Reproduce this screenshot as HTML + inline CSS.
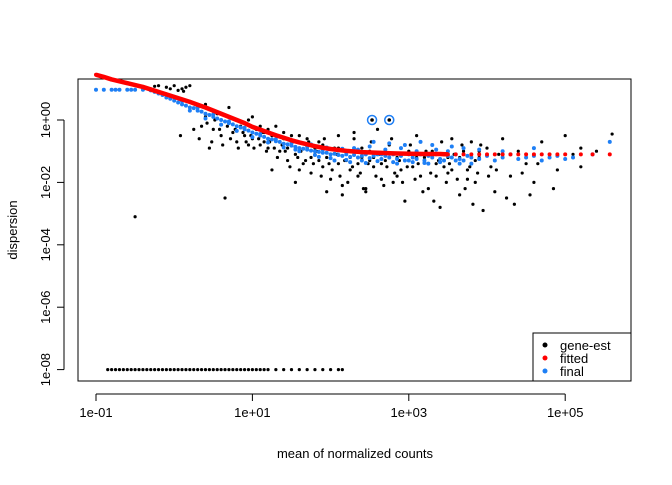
<!DOCTYPE html>
<html><head><meta charset="utf-8"><style>
body{margin:0;background:#fff}
svg text{font-family:"Liberation Sans",sans-serif;font-size:13px}
</style></head><body>
<svg width="672" height="480" id="plot">
<rect x="78" y="79" width="553" height="302" fill="none" stroke="#000"/>
<g id="axes"></g>
<g id="pts"></g>
<text x="355" y="458" text-anchor="middle">mean of normalized counts</text>
<text transform="translate(17,230) rotate(-90)" text-anchor="middle">dispersion</text>
<g>
<rect x="533" y="333" width="98" height="48" fill="#fff" stroke="#000"/>
<circle cx="545" cy="345" r="2.5" fill="#000"/><text x="560" y="350">gene-est</text>
<circle cx="545" cy="358" r="2.5" fill="#f00"/><text x="560" y="363">fitted</text>
<circle cx="545" cy="371" r="2.5" fill="#1e7ff5"/><text x="560" y="376">final</text>
</g>
</svg>
<script>
const xTicks=[-1,1,3,5];
const xTickLabels=["1e-01","1e+01","1e+03","1e+05"];
const yTicks=[0,-2,-4,-6,-8];
const yTickLabels=["1e+00","1e-02","1e-04","1e-06","1e-08"];
const genePoints=[[-0.2,1.1],[-0.1,1.05],[0,1.1],[0.1,1.0],[0.2,1.1],[-0.3,1.0],[0.15,1.05],[0.05,0.95],[-0.25,1.08],[-0.05,1.0],[0.12,0.92],
[0.3,0.3],[0.35,-0.2],[0.4,0.1],[0.5,-0.3],[0.55,0.2],[0.6,-0.5],[0.7,-0.1],[0.75,-0.4],[0.8,-0.7],[0.85,-0.2],[0.9,-0.5],[0.95,0.0],[1.0,-0.6],[1.05,-0.3],[1.1,-0.8],[1.15,-0.4],[1.2,-0.9],[1.25,-0.5],[1.3,-0.2],[1.35,-1.0],[1.4,-0.6],[1.45,-1.3],[1.5,-0.8],[1.55,-1.1],[1.6,-0.5],[1.65,-1.4],[1.7,-0.9],[1.75,-1.7],[1.8,-1.1],[1.85,-0.7],[1.9,-1.5],[1.95,-1.2],[2.0,-1.9],[2.05,-0.9],[2.1,-1.4],[2.15,-2.1],[2.2,-1.0],[2.25,-1.6],[2.3,-0.6],[2.35,-1.8],[2.4,-1.2],[2.45,-2.3],[2.5,-1.0],[2.55,-1.5],[2.6,-0.3],[2.65,-1.9],[2.7,-1.3],[2.75,-0.8],[2.8,-2.0],[2.85,-1.2],[2.9,-1.6],[2.95,-2.6],[3.0,-1.0],[3.05,-1.5],[3.1,-0.5],[3.15,-1.8],[3.2,-1.2],[3.25,-2.2],[3.3,-0.8],[3.35,-1.4],[3.4,-2.8],[3.45,-1.1],[3.5,-1.7],[3.55,-0.6],[3.6,-1.3],[3.65,-2.4],[3.7,-1.0],[3.75,-1.6],[3.8,-0.7],[3.85,-2.0],[3.9,-1.2],[3.95,-2.9],[4.0,-0.9],[4.05,-1.5],[4.1,-2.3],[4.15,-1.1],[4.2,-0.6],[4.3,-1.8],[4.35,-2.7],[4.4,-1.0],[4.5,-1.4],[4.6,-2.0],[4.7,-0.7],[4.8,-1.2],[4.9,-1.6],[5.0,-0.5],[5.1,-1.1],[5.2,-0.9],[5.4,-1.0],[5.6,-0.45],[-0.5,-3.1],
[0.4,0.5],[0.6,0.2],[0.7,0.4],[0.9,-0.1],[1.0,0.1],[1.1,-0.2],[1.2,-0.3],[1.3,-0.6],[1.4,-0.4],[1.5,-0.5],[1.6,-0.9],[1.7,-0.6],[1.8,-0.9],[1.9,-0.8],[2.0,-1.1],[2.1,-0.9],[2.2,-1.3],[2.3,-1.1],[2.4,-0.9],[2.5,-1.3],[2.7,-1.0],[2.9,-1.1],[3.1,-1.2],[3.3,-1.0],[3.5,-1.2],[3.7,-1.3],[3.9,-1.0],[4.1,-1.3],[4.3,-1.1],[4.5,-1.1],[0.45,-0.9],[0.65,-2.5],[1.25,-1.6],[1.55,-2.0],[2.15,-2.4],[2.45,-2.2],[0.08,-0.5],
[0.32,-0.6],[0.42,-0.1],[0.48,-0.7],[0.52,0.0],[0.58,-0.3],[0.62,-0.8],[0.68,-0.2],[0.72,-0.6],[0.78,-0.3],[0.82,-0.9],[0.88,-0.4],[0.92,-0.7],[0.98,-0.5],[1.02,-0.9],[1.08,-0.6],[1.12,-0.4],[1.18,-1.0],[1.22,-0.7],[1.28,-0.9],[1.32,-1.2],[1.38,-0.8],[1.42,-1.0],[1.48,-1.5],[1.52,-0.7],[1.58,-1.2],[1.62,-1.0],[1.68,-1.3],[1.72,-0.7],[1.78,-1.4],[1.82,-1.0],[1.88,-1.8],[1.92,-0.6],[1.98,-1.4],[2.02,-1.6],[2.08,-1.1],[2.12,-1.8],[2.18,-1.3],[2.22,-2.0],[2.28,-1.5],[2.32,-1.0],[2.38,-1.7],[2.42,-2.2],[2.48,-1.4],[2.52,-0.7],[2.58,-1.8],[2.62,-1.1],[2.68,-2.1],[2.72,-1.5],[2.78,-0.6],[2.82,-1.7],[2.88,-1.3],[2.92,-2.0],[2.98,-1.5],[3.02,-0.8],[3.08,-1.9],[3.12,-1.4],[3.18,-2.3],[3.22,-1.0],[3.28,-1.7],[3.32,-2.6],[3.38,-1.3],[3.42,-0.7],[3.48,-2.0],[3.52,-1.4],[3.58,-1.1],[3.62,-1.9],[3.68,-0.8],[3.72,-2.2],[3.78,-1.5],[3.82,-2.7],[3.88,-1.7],[3.92,-0.8],[4.02,-1.8],[4.12,-1.6],[4.25,-2.5],[4.45,-1.7],[4.55,-2.4],[4.65,-1.4],[4.85,-2.2],[5.2,-1.5],[2.3,-0.4],[2.1,-0.5],[1.95,-2.3],[0.25,-0.3],
[1.6,-1.6],[1.75,-1.2],[1.85,-1.3],[2.05,-1.3],[2.25,-1.2],[2.35,-1.4],[2.55,-1.2],[2.65,-1.4],[2.75,-1.2],[2.85,-1.8],[2.95,-1.3],[3.05,-1.2],[3.15,-1.1],[3.25,-1.4],[3.35,-1.8],[3.45,-1.5],[3.55,-1.6],[3.65,-1.2],[3.75,-1.9],[3.85,-1.3],[1.45,-0.9],[1.35,-0.7],[1.15,-0.7],[0.95,-0.8]];
const zeroMean=[-0.85,-0.8,-0.75,-0.7,-0.65,-0.6,-0.55,-0.5,-0.45,-0.4,-0.35,-0.3,-0.25,-0.2,-0.15,-0.1,-0.05,0,0.05,0.1,0.15,0.2,0.25,0.3,0.35,0.4,0.45,0.5,0.55,0.6,0.65,0.7,0.75,0.8,0.85,0.9,0.95,1.0,1.05,1.1,1.15,1.2,1.3,1.4,1.5,1.6,1.7,1.8,1.9,2.0,2.1,2.15];
const zeroDisp=-8;
const fittedMean=[-1,-0.9,-0.8,-0.7,-0.6,-0.5,-0.4,-0.3,-0.2,-0.1,0,0.1,0.2,0.3,0.4,0.5,0.6,0.7,0.8,0.9,1.0,1.1,1.2,1.3,1.4,1.5,1.6,1.7,1.8,1.9,2.0,2.2,2.4,2.6,2.8,3.0,3.2,3.4,3.5,3.6,3.7,3.8,3.9,4.0,4.1,4.2,4.3,4.4,4.5,4.6,4.7,4.8,4.9,5.0,5.2,5.35,5.57];
const fittedDisp=[1.45,1.38,1.3,1.24,1.18,1.12,1.06,0.98,0.9,0.82,0.74,0.66,0.58,0.49,0.4,0.3,0.2,0.1,0.0,-0.1,-0.22,-0.31,-0.4,-0.49,-0.57,-0.65,-0.72,-0.78,-0.84,-0.89,-0.93,-0.99,-1.03,-1.05,-1.07,-1.08,-1.09,-1.09,-1.1,-1.1,-1.1,-1.1,-1.1,-1.1,-1.1,-1.1,-1.1,-1.1,-1.1,-1.1,-1.1,-1.1,-1.1,-1.1,-1.1,-1.1,-1.1];
const finalPoints=[[-1,0.97],[-0.9,0.97],[-0.8,0.97],[-0.75,0.97],[-0.7,0.97],[-0.6,0.97],[-0.55,0.97],[-0.5,0.97],[-0.4,0.97],[-0.3,0.95],[-0.25,0.9],[-0.2,0.85],[-0.15,0.8],[-0.1,0.72],[-0.05,0.68],[0,0.62],[0.05,0.56],[0.1,0.5],[0.15,0.46],[0.2,0.4],[0.25,0.38],[0.3,0.3],[0.35,0.27],[0.4,0.2],[0.45,0.16],[0.5,0.1],[0.55,0.05],[0.6,0.0],[0.65,-0.05],[0.7,-0.1],[0.75,-0.14],[0.8,-0.2],[0.85,-0.24],[0.9,-0.3],[0.95,-0.34],[1.0,-0.4],[1.05,-0.44],[1.1,-0.5],[1.15,-0.54],[1.2,-0.6],[1.25,-0.62],[1.3,-0.68],[1.35,-0.7],[1.4,-0.76],[1.45,-0.78],[1.5,-0.82],[1.55,-0.86],[1.6,-0.9],[1.65,-0.92],[1.7,-0.95],[1.75,-0.98],[1.8,-1.0],[1.85,-1.02],[1.9,-1.05],[1.95,-1.05],[2.0,-1.1],[2.05,-1.08],[2.1,-1.12],[2.15,-1.15],[2.2,-1.1],[2.25,-1.18],[2.3,-1.12],[2.35,-1.2],[2.4,-1.15],[2.45,-1.1],[2.5,-1.22],[2.55,-1.15],[2.6,-1.1],[2.65,-1.25],[2.7,-1.15],[2.75,-1.2],[2.8,-1.1],[2.85,-1.25],[2.9,-1.15],[2.95,-1.3],[3.0,-1.1],[3.05,-1.2],[3.1,-1.25],[3.15,-1.1],[3.2,-1.3],[3.25,-1.15],[3.3,-1.2],[3.35,-1.1],[3.4,-1.25],[3.45,-1.3],[3.5,-1.15],[3.55,-1.2],[3.6,-1.1],[3.65,-1.25],[3.7,-1.3],[3.75,-1.15],[3.8,-1.2],[3.9,-1.25],[4.0,-1.15],[4.1,-1.3],[4.2,-1.2],[4.3,-1.1],[4.4,-1.25],[4.5,-1.2],[4.6,-1.15],[4.7,-1.3],[4.8,-1.2],[4.9,-1.15],[5.0,-1.25],[5.1,-1.2],[5.35,-1.1],[5.57,-0.7],
[0.1,0.6],[0.3,0.4],[0.5,0.18],[0.7,-0.05],[0.9,-0.25],[1.1,-0.45],[1.3,-0.62],[1.5,-0.72],[1.7,-0.85],[1.9,-0.95],[2.1,-0.98],[2.3,-0.9],[2.5,-0.85],[2.7,-0.95],[2.9,-0.9],[3.1,-1.0],[3.3,-0.8],[3.5,-1.0],[3.7,-0.9],[3.9,-0.95],[4.2,-1.0],[4.6,-0.9],
[0.2,0.3],[0.4,0.05],[0.6,-0.15],[0.8,-0.35],[1.0,-0.55],[1.2,-0.72],[1.4,-0.88],[1.6,-1.0],[1.8,-1.12],[2.0,-1.22],[2.2,-1.28],[2.4,-1.3],[2.6,-1.32],[2.8,-1.35],[3.0,-1.3],[3.2,-1.38],[3.4,-1.35],[3.6,-1.3],[3.8,-1.4],[1.75,-0.78],[1.95,-0.88],[2.15,-0.92],[2.35,-0.95],[2.55,-0.7],[2.75,-0.75],[2.95,-0.8],[3.15,-0.7],[3.35,-0.95],[3.55,-0.85],[1.55,-0.95],[1.85,-1.18],[2.05,-1.3],[2.25,-1.35],[2.45,-1.38],[2.65,-1.1],[2.85,-1.4],[3.05,-1.35],[3.25,-1.4],[3.45,-1.1],[3.65,-1.4]];
const X=m=>96+(m+1)*78.2, Y=d=>120-d*31.2;
const NS="http://www.w3.org/2000/svg";
const ax=document.getElementById('axes'), pts=document.getElementById('pts');
function mk(t,a,p){const e=document.createElementNS(NS,t);for(const k in a)e.setAttribute(k,a[k]);p.appendChild(e);return e;}
const xl=mk('line',{x1:X(-1),x2:X(5),y1:394,y2:394,stroke:'#000'},ax);


xTicks.forEach((t,i)=>{mk('line',{x1:X(t),x2:X(t),y1:394,y2:401,stroke:'#000'},ax);
const tx=mk('text',{x:X(t),y:417,'text-anchor':'middle'},ax);tx.textContent=xTickLabels[i];

});
const yl=mk('line',{x1:64,x2:64,y1:Y(0),y2:Y(-8),stroke:'#000'},ax);


yTicks.forEach((t,i)=>{mk('line',{x1:57,x2:64,y1:Y(t),y2:Y(t),stroke:'#000'},ax);
const tx=mk('text',{transform:`translate(50,${Y(t)}) rotate(-90)`,'text-anchor':'middle'},ax);tx.textContent=yTickLabels[i];

});
function dot(m,d,c,r,name){const e=mk('circle',{cx:X(m),cy:Y(d),r:r,fill:c},pts);

}
genePoints.forEach(p=>dot(p[0],p[1],'#000',1.6,'gene-est-point'));
zeroMean.forEach(m=>dot(m,zeroDisp,'#000',1.6,'gene-est-zero-point'));
finalPoints.forEach(p=>dot(p[0],p[1],'#1e7ff5',2,'final-point'));
let dPath='';
fittedMean.forEach((m,i)=>{if(m<=3.5)dPath+=(i?'L':'M')+X(m)+','+Y(fittedDisp[i]);});
const fl=mk('path',{d:dPath,fill:'none',stroke:'#f00','stroke-width':4.5,'stroke-linejoin':'round'},pts);


fittedMean.forEach((m,i)=>dot(m,fittedDisp[i],'#f00',2,'fitted-point'));
[2.53,2.75].forEach(m=>{const e=mk('circle',{cx:X(m),cy:Y(0),r:4.5,fill:'none',stroke:'#1e7ff5','stroke-width':1.5},pts);


dot(m,0,'#000',1.8,'outlier-point');});
</script>
</body></html>
